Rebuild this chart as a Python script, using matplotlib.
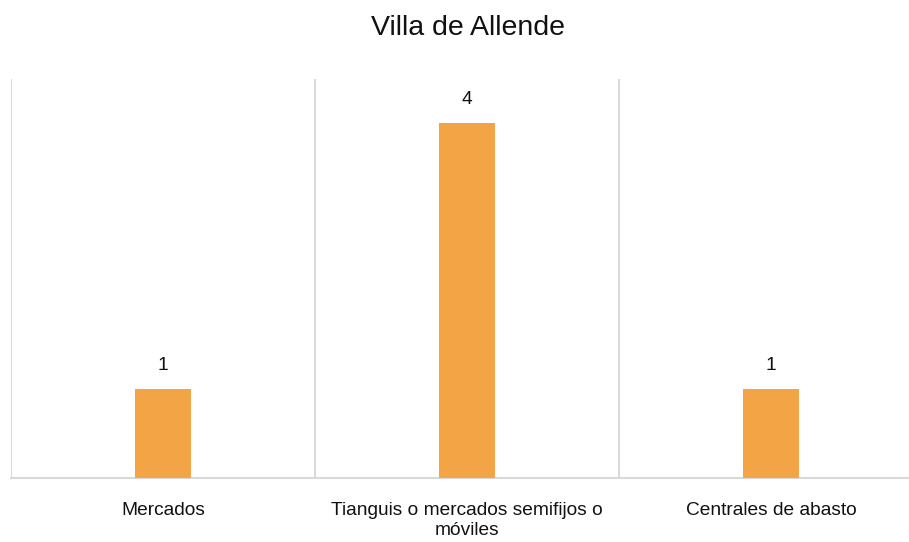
import matplotlib
matplotlib.use("Agg")
import matplotlib.pyplot as plt

categorias = ["Mercados", "Tianguis o mercados semifijos o\nmóviles", "Centrales de abasto"]
valores = [1, 4, 1]

plt.rcParams['font.family'] = ['Liberation Sans', 'DejaVu Sans']

fig = plt.figure(figsize=(9.09, 5.42), dpi=100)
W, H = 909, 542
ax = fig.add_axes([11 / W, (H - 478) / H, 912 / W, 399 / H])

x = range(len(valores))
barras = ax.bar(x, valores, width=0.185, color='#F3A546', zorder=3)

ax.set_xlim(-0.5, 2.5)
ax.set_ylim(0, 4.5)

# separadores de categoria
for s in [-0.5, 0.5, 1.5, 2.5]:
    ax.axvline(s, color='#D9D9D9', lw=1.5, zorder=1)

for sp in ['top', 'right', 'left']:
    ax.spines[sp].set_visible(False)
ax.spines['bottom'].set_color('#D9D9D9')
ax.spines['bottom'].set_linewidth(1.5)

ax.set_yticks([])
ax.set_xticks(list(x))
ax.set_xticklabels(categorias, fontsize=13.8, color='#111111', linespacing=1.25)
ax.tick_params(axis='x', length=0, pad=17)

for b, v in zip(barras, valores):
    ax.annotate(str(v), (b.get_x() + b.get_width() / 2, v), xytext=(0, 11),
                textcoords='offset points', ha='center', va='bottom',
                fontsize=13.8, color='#111111')

fig.text(468 / W, 1 - 28 / H, "Villa de Allende", ha='center', va='center',
         fontsize=20.5, color='#111111')

fig.savefig("out.png", dpi=100)
